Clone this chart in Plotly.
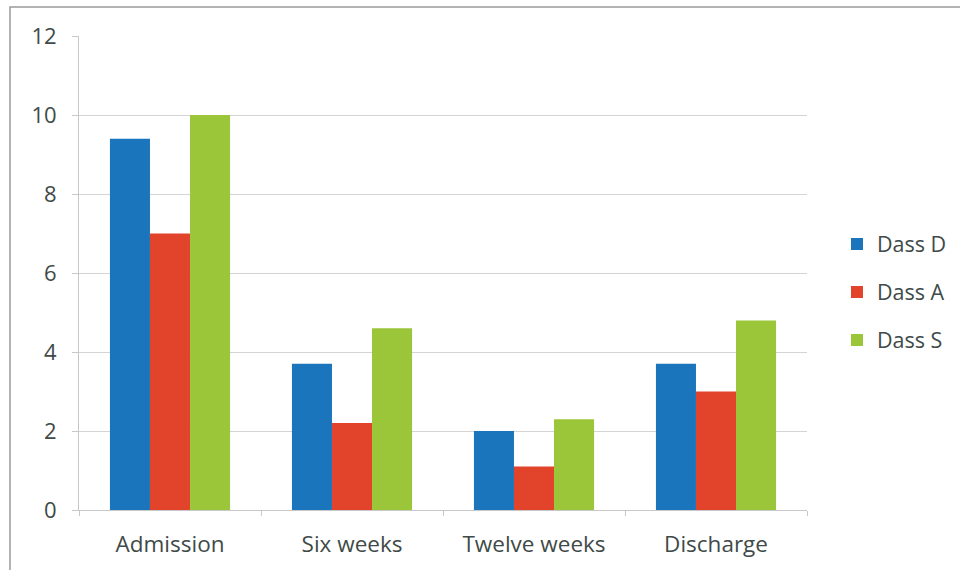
import plotly.graph_objects as go

categories = ["Admission", "Six weeks", "Twelve weeks", "Discharge"]
dass_d = [9.4, 3.7, 2.0, 3.7]
dass_a = [7.0, 2.2, 1.1, 3.0]
dass_s = [10.0, 4.6, 2.3, 4.8]
series_names = ["Dass D", "Dass A", "Dass S"]
series_colors = ["#1b75bc", "#e2432b", "#9bc63a"]
y_ticks = [0, 2, 4, 6, 8, 10, 12]

W, H = 960, 570
ML, MR, MT, MB = 79, 153, 36, 60
pw, ph = W - ML - MR, H - MT - MB

def px_x(p):
    return (p - ML) / pw

def px_y(p):
    return (H - MB - p) / ph

fig = go.Figure()
for name, vals, col in zip(series_names, [dass_d, dass_a, dass_s], series_colors):
    fig.add_trace(go.Bar(x=categories, y=vals, name=name, marker_color=col,
                         marker_line_width=0, legendgroup=name))

text_col = "#404a48"
fig.update_layout(
    width=W, height=H,
    margin=dict(l=ML, r=MR, t=MT, b=MB, autoexpand=False),
    paper_bgcolor="white", plot_bgcolor="white",
    barmode="group", bargap=0.34, bargroupgap=0,
    font=dict(family="'Open Sans', Lato, sans-serif", color=text_col),
    legend=dict(x=px_x(837), y=px_y(292), xanchor="left", yanchor="middle",
                font=dict(size=21.5, color=text_col), traceorder="grouped",
                tracegroupgap=17, itemwidth=30),
    showlegend=True,
)
fig.update_xaxes(
    showline=True, linecolor="#c8c8c8", linewidth=1,
    ticks="outside", tickson="boundaries", ticklen=5, tickcolor="#c8c8c8",
    tickfont=dict(size=22.5, color=text_col), ticklabelstandoff=14,
    automargin=False,
)
fig.update_yaxes(
    range=[0, 12], tickvals=y_ticks, showgrid=True, gridcolor="#d4d4d4",
    showline=True, linecolor="#c8c8c8", linewidth=1,
    ticks="outside", ticklen=6, tickcolor="#c8c8c8",
    tickfont=dict(size=22, color=text_col), ticklabelstandoff=11, zeroline=False,
    automargin=False,
)
# outer chart frame
fig.add_shape(type="rect", xref="paper", yref="paper",
              x0=px_x(10), x1=px_x(962), y0=px_y(572), y1=px_y(7),
              line=dict(color="#9a9a9a", width=1.5), layer="below")

fig.write_html("out.html")
